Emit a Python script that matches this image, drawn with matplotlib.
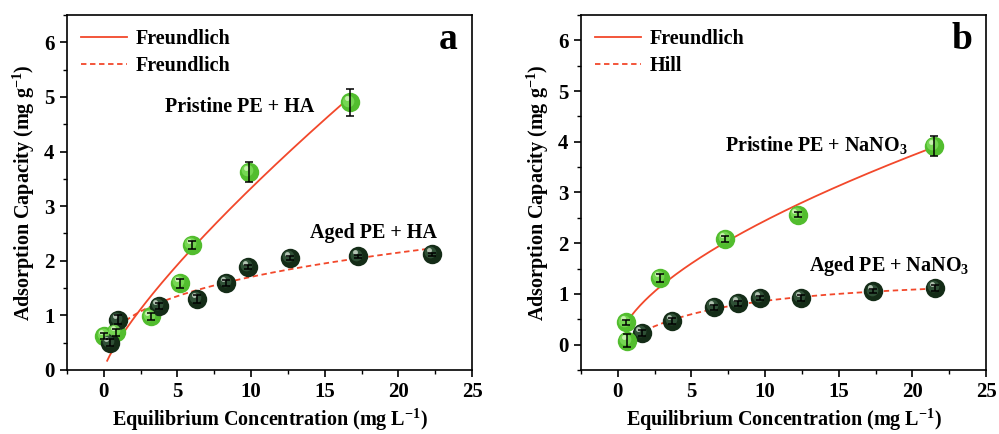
import numpy as np
import matplotlib
matplotlib.use("Agg")
import matplotlib.pyplot as plt
from matplotlib.ticker import MultipleLocator
from matplotlib.transforms import offset_copy

plt.rcParams['font.family'] = ['Liberation Serif', 'DejaVu Serif']
plt.rcParams['font.weight'] = 'bold'
plt.rcParams['mathtext.default'] = 'regular'

# panel a: HA
a_pri_x = [0.05, 0.84, 3.18, 5.17, 6.01, 9.84, 16.7]
a_pri_y = [0.62, 0.69, 0.98, 1.59, 2.29, 3.62, 4.90]
a_pri_err = [0.05, 0.06, 0.07, 0.08, 0.08, 0.18, 0.25]
a_age_x = [0.39, 0.95, 3.72, 6.35, 8.33, 9.80, 12.63, 17.24, 22.3]
a_age_y = [0.50, 0.92, 1.17, 1.30, 1.59, 1.88, 2.05, 2.08, 2.12]
a_age_err = [0.06, 0.08, 0.06, 0.07, 0.05, 0.04, 0.04, 0.03, 0.03]

# panel b: NaNO3
b_pri_x = [0.57, 2.88, 7.30, 12.2, 21.47]
b_pri_y = [0.44, 1.32, 2.08, 2.56, 3.92]
b_pri_err = [0.05, 0.08, 0.06, 0.05, 0.20]
b_age_x = [0.63, 1.62, 3.70, 6.53, 8.16, 9.64, 12.43, 17.35, 21.54]
b_age_y = [0.08, 0.23, 0.47, 0.74, 0.82, 0.92, 0.92, 1.05, 1.12]
b_age_err = [0.12, 0.06, 0.06, 0.05, 0.05, 0.04, 0.05, 0.04, 0.06]
b_age_light = [True, False, False, False, False, False, False, False, False]

# fitted model parameters
a_pri_fit = dict(K=0.54, n=0.79, c0=0.23, c1=16.7)    # Freundlich
a_age_fit = dict(K=0.79, n=0.334, c0=0.61, c1=22.3)   # Freundlich
b_pri_fit = dict(K=0.60, n=0.61, c0=0.57, c1=21.5)    # Freundlich
b_age_fit = dict(qm=1.40, K=6.5, n=1.1, c0=0.72, c1=21.5)  # Hill

RED = '#f2482b'
LIGHT = ['#52bd2e', '#7ad957', '#d0f5b8']
DARK = ['#142c17', '#33553a', '#c0d0c0']
FS = 14.5


def freundlich(p):
    c = np.linspace(p['c0'], p['c1'], 200)
    return c, p['K'] * c ** p['n']


def hill(p):
    c = np.linspace(p['c0'], p['c1'], 200)
    return c, p['qm'] * c ** p['n'] / (p['K'] ** p['n'] + c ** p['n'])


def spheres(ax, x, y, cols, size=14):
    # crude shaded ball: base disc plus lighter offset discs
    fig = ax.figure
    ax.plot(x, y, 'o', ms=size, color=cols[0], mec='none', zorder=3)
    t1 = offset_copy(ax.transData, fig=fig, x=-1.3, y=1.3, units='points')
    ax.plot(x, y, 'o', ms=size * 0.6, color=cols[1], mec='none', zorder=3.1,
            transform=t1, alpha=0.9)
    t2 = offset_copy(ax.transData, fig=fig, x=-2.3, y=2.8, units='points')
    ax.plot(x, y, 'o', ms=size * 0.25, color=cols[2], mec='none', zorder=3.2,
            transform=t2, alpha=0.9)


def errs(ax, x, y, e):
    ax.errorbar(x, y, yerr=e, fmt='none', ecolor='black', elinewidth=1.1,
                capsize=2.6, capthick=1.1, zorder=4)


def style(ax, ymin, label):
    ax.set_xlim(-2.5, 25)
    ax.set_ylim(ymin, 6.5)
    ax.xaxis.set_major_locator(MultipleLocator(5))
    ax.xaxis.set_minor_locator(MultipleLocator(2.5))
    ax.yaxis.set_major_locator(MultipleLocator(1))
    ax.yaxis.set_minor_locator(MultipleLocator(0.5))
    ax.tick_params(which='major', direction='out', length=5, width=1.2,
                   labelsize=15, pad=4)
    ax.tick_params(which='minor', direction='out', length=3, width=1.0)
    for s in ax.spines.values():
        s.set_linewidth(1.2)
    ax.set_xlabel('Equilibrium Concentration (mg L$^{-1}$)', fontsize=FS,
                  fontweight='bold', labelpad=3)
    ax.set_ylabel('Adsorption Capacity (mg g$^{-1}$)', fontsize=FS,
                  fontweight='bold', labelpad=5)
    ax.text(0.94, 0.93, label, transform=ax.transAxes, fontsize=27,
            fontweight='bold', ha='center', va='center')


fig = plt.figure(figsize=(9.99, 4.34), dpi=100)
ax1 = fig.add_axes([0.067, 0.1475, 0.4055, 0.818])
ax2 = fig.add_axes([0.5816, 0.1475, 0.4054, 0.818])

# panel a
c, q = freundlich(a_pri_fit)
ax1.plot(c, q, '-', color=RED, lw=1.3, zorder=2, label='Freundlich')
c, q = freundlich(a_age_fit)
ax1.plot(c, q, '--', color=RED, lw=1.3, dashes=(3, 2), zorder=2, label='Freundlich')
spheres(ax1, a_pri_x, a_pri_y, LIGHT)
spheres(ax1, a_age_x, a_age_y, DARK)
errs(ax1, a_pri_x, a_pri_y, a_pri_err)
errs(ax1, a_age_x, a_age_y, a_age_err)
ax1.text(9.2, 4.81, 'Pristine PE + HA', fontsize=FS, fontweight='bold',
         ha='center', va='center')
ax1.text(18.3, 2.51, 'Aged PE + HA', fontsize=FS, fontweight='bold',
         ha='center', va='center')
style(ax1, 0, 'a')

# panel b
c, q = freundlich(b_pri_fit)
ax2.plot(c, q, '-', color=RED, lw=1.3, zorder=2, label='Freundlich')
c, q = hill(b_age_fit)
ax2.plot(c, q, '--', color=RED, lw=1.3, dashes=(3, 2), zorder=2, label='Hill')
spheres(ax2, b_pri_x, b_pri_y, LIGHT)
bx = np.array(b_age_x)
by = np.array(b_age_y)
lt = np.array(b_age_light)
spheres(ax2, bx[~lt], by[~lt], DARK)
spheres(ax2, bx[lt], by[lt], LIGHT)
errs(ax2, b_pri_x, b_pri_y, b_pri_err)
errs(ax2, b_age_x, b_age_y, b_age_err)
ax2.text(13.5, 3.94, 'Pristine PE + NaNO$_3$', fontsize=FS, fontweight='bold',
         ha='center', va='center')
ax2.text(18.4, 1.56, 'Aged PE + NaNO$_3$', fontsize=FS, fontweight='bold',
         ha='center', va='center')
style(ax2, -0.5, 'b')

for ax in (ax1, ax2):
    ax.legend(loc='upper left', frameon=False, handlelength=2.3,
              handletextpad=0.4, labelspacing=0.35, borderaxespad=0.3,
              prop={'weight': 'bold', 'size': FS})

fig.savefig('out.png', dpi=100)
